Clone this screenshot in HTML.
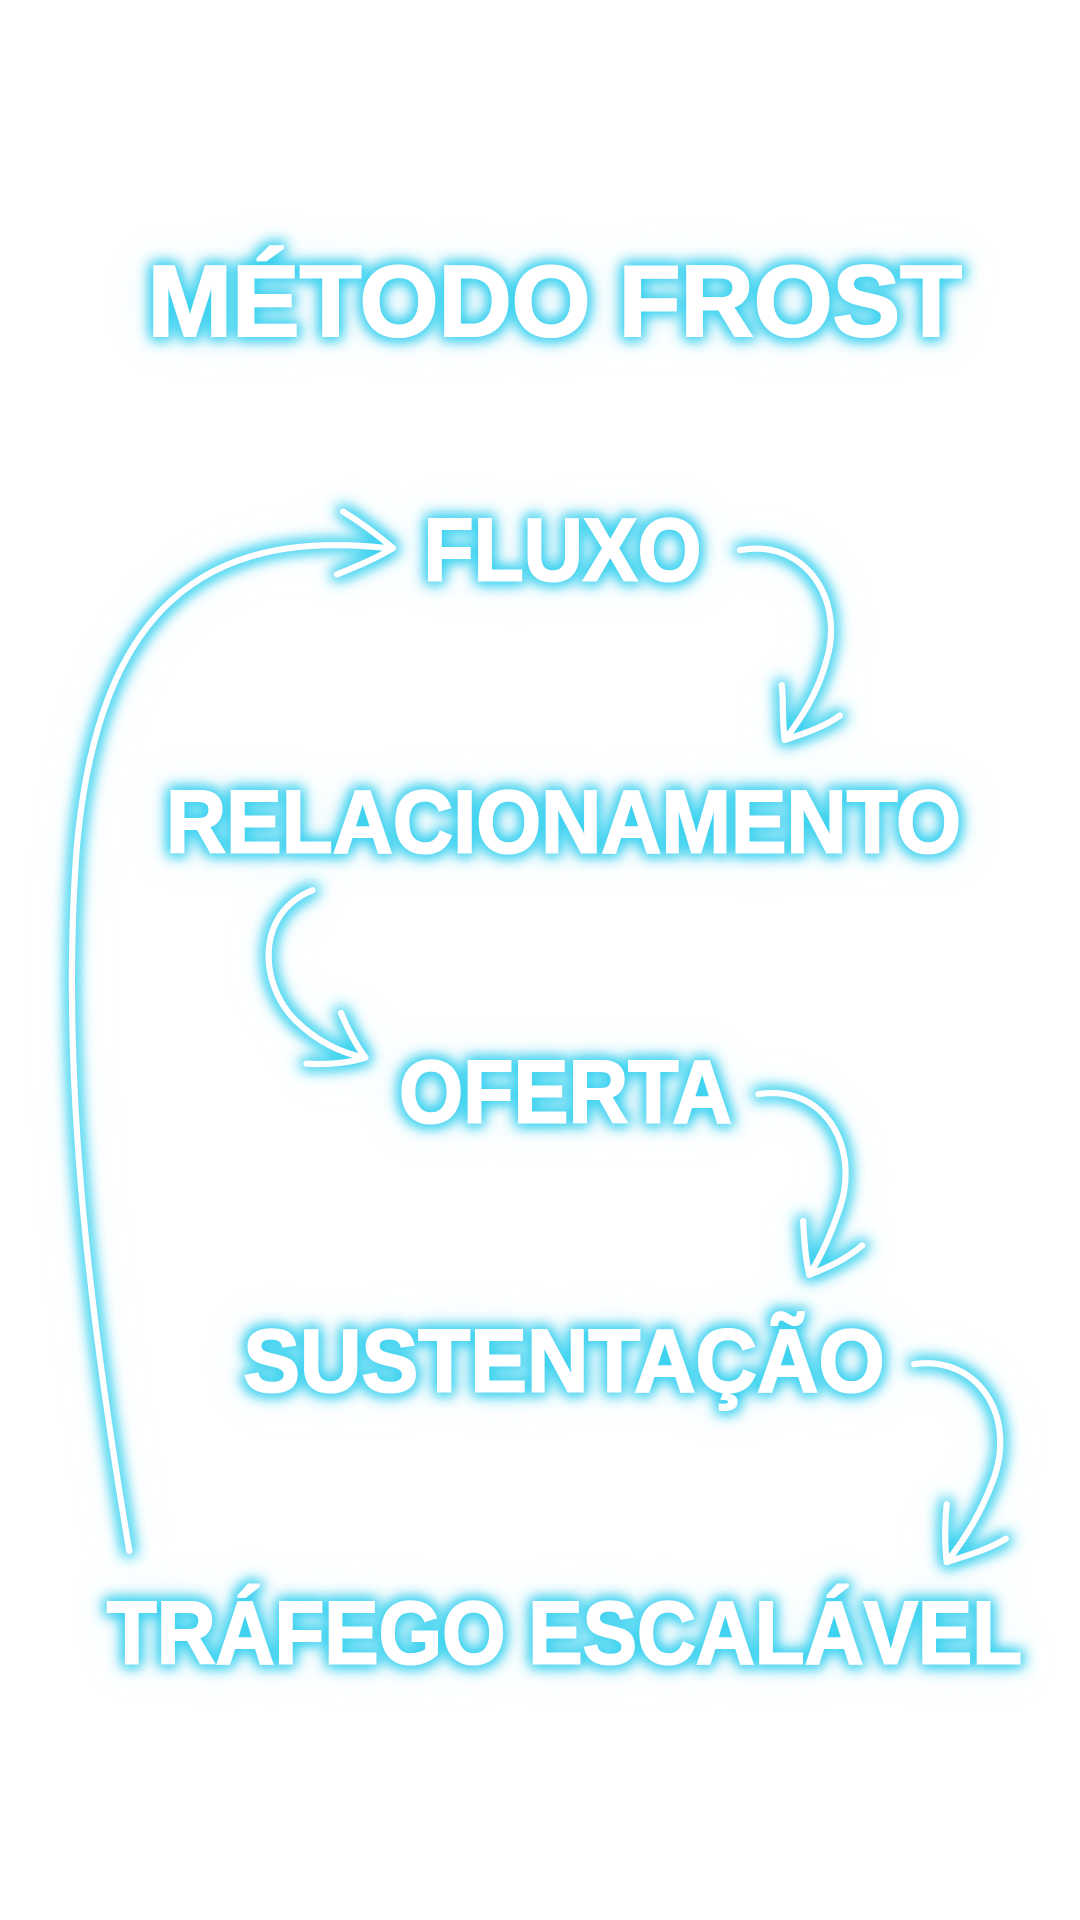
<!DOCTYPE html>
<html><head><meta charset="utf-8"><style>
html,body{margin:0;padding:0;background:#fff;width:1080px;height:1920px;overflow:hidden}
svg{display:block}
text{font-family:"Liberation Sans",sans-serif;font-weight:900;fill:#fff;stroke:#fff;stroke-width:2}
</style></head><body>
<svg width="1080" height="1920" viewBox="0 0 1080 1920">
<defs>
<filter id="g" x="-30%" y="-60%" width="160%" height="220%">
<feMorphology in="SourceAlpha" operator="dilate" radius="2" result="d"/>
<feGaussianBlur in="d" stdDeviation="7" result="b1"/>
<feFlood flood-color="#3fd3f0"/>
<feComposite in2="b1" operator="in" result="c1"/>
<feGaussianBlur in="SourceAlpha" stdDeviation="22" result="b2"/>
<feFlood flood-color="#aeeaf7" flood-opacity="0.45"/>
<feComposite in2="b2" operator="in" result="c2"/>
<feMerge><feMergeNode in="c2"/><feMergeNode in="c1"/><feMergeNode in="c1"/><feMergeNode in="SourceGraphic"/></feMerge>
</filter>
</defs>
<g transform="scale(1.018,1.015)">
<g filter="url(#g)">
<text x="145" y="331" font-size="100" textLength="800" lengthAdjust="spacingAndGlyphs">MÉTODO FROST</text>
<text x="416" y="572" font-size="88" textLength="273" lengthAdjust="spacingAndGlyphs">FLUXO</text>
<text x="163" y="840" font-size="88" textLength="781" lengthAdjust="spacingAndGlyphs">RELACIONAMENTO</text>
<text x="392" y="1106" font-size="88" textLength="327" lengthAdjust="spacingAndGlyphs">OFERTA</text>
<text x="239" y="1371" font-size="88" textLength="630" lengthAdjust="spacingAndGlyphs">SUSTENTAÇÃO</text>
<text x="105" y="1639" font-size="88" textLength="899" lengthAdjust="spacingAndGlyphs">TRÁFEGO ESCALÁVEL</text>
</g>
<g filter="url(#g)" fill="none" stroke="#fff" stroke-width="6" stroke-linecap="round" stroke-linejoin="round">
<path d="M127,1528 C85,1280 60,1050 75,840 C95,600 200,520 380,540"/>
<path d="M337,504 C355,515 372,528 386,540 C370,550 350,558 331,566"/>
<path d="M727,542 C790,530 830,590 812,650 C803,685 785,710 771,729"/>
<path d="M768,675 C770,695 768,712 771,729 C792,722 812,715 825,705"/>
<path d="M307,877 C250,900 255,970 290,1005 C310,1025 335,1038 359,1042"/>
<path d="M335,998 C342,1015 350,1030 359,1042 C340,1048 320,1049 301,1048"/>
<path d="M745,1078 C810,1068 845,1130 825,1190 C815,1220 805,1240 795,1256"/>
<path d="M789,1203 C790,1222 791,1240 795,1256 C815,1248 832,1240 847,1227"/>
<path d="M898,1344 C960,1335 1000,1395 975,1460 C962,1495 945,1520 930,1539"/>
<path d="M930,1482 C928,1502 928,1522 930,1539 C952,1532 972,1526 988,1516"/>
</g>
</g>
</svg>
</body></html>
